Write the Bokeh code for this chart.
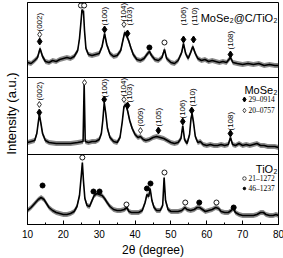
import math
from bokeh.plotting import figure
from bokeh.models import Range1d, Span, SingleIntervalTicker, FixedTicker
from bokeh.core.properties import value
from bokeh.embed import file_html
from bokeh.resources import INLINE

# ---------------- data ----------------
top_theta = [10, 11, 12, 12.8, 13.5, 14.2, 15, 16, 17, 18, 19, 20, 21, 22, 23, 24, 24.5, 24.9, 25.2, 25.4,
             25.6, 25.9, 26.3, 27, 28, 29, 30, 30.8, 31.5, 32.1, 33, 34, 35, 36, 36.6, 37.1, 37.6, 38.2,
             38.8, 39.5, 40.5, 41.5, 42.5, 43.5, 44, 44.6, 45.5, 46.5, 47.5, 48.2, 48.8, 50, 51, 52, 53,
             53.5, 54.1, 54.8, 55.5, 56.1, 56.8, 57.5, 58.5, 59.5, 60.5, 61.5, 62.5, 63.5, 64.5, 65.5,
             66.6, 67.3, 68.5, 70, 71.5, 73, 74.5, 76, 77.5, 79, 80]
top_int = [15, 14, 17, 20, 29, 21, 16, 15, 17, 16, 18, 19, 20, 19, 21, 27, 39, 55, 68, 65,
           67, 47, 29, 23, 22, 23, 24, 31, 44, 33, 24, 21, 22, 27, 37, 45, 42, 37,
           30, 23, 18, 17, 19, 24, 26, 22, 18, 17, 20, 28, 19, 15, 14, 17, 25,
           34, 24, 19, 25, 31, 24, 19, 17, 18, 16, 17, 16, 15, 16, 15,
           20, 15, 14, 13, 14, 13, 14, 12, 13, 12, 12]

mid_theta = [10, 11, 12, 12.6, 13.0, 13.3, 13.7, 14.2, 15, 16, 18, 20, 22, 24, 25.5, 25.8, 26.1, 27, 28,
             29, 30, 30.6, 31.0, 31.4, 31.8, 32.3, 33, 34, 35, 35.8, 36.4, 36.9, 37.4, 37.9, 38.5, 39.2,
             40, 40.8, 41.5, 42.3, 43, 44, 45, 46, 47, 48, 49, 50, 51, 52, 52.8, 53.3, 53.8, 54.5, 55.2,
             55.6, 55.9, 56.3, 56.8, 57.5, 58.2, 59, 60, 61, 62, 63, 64, 65, 66, 66.6, 67.2, 68, 69, 70,
             71, 72, 73, 74, 75, 76, 77, 78, 79, 80]
mid_int = [12, 13, 14, 21, 32, 40, 32, 21, 14, 12, 11, 11, 11, 12, 13, 71, 13, 12, 13,
           13, 15, 21, 34, 52, 42, 26, 17, 13, 12, 17, 32, 48, 50, 44, 34, 26,
           20, 17, 18, 15, 14, 15, 17, 18, 17, 16, 14, 12, 11, 12, 16, 29, 15, 11, 20,
           36, 41, 32, 18, 12, 13, 10, 9, 10, 9, 9, 10, 9, 10, 17, 10, 9, 11, 9,
           10, 9, 10, 11, 9, 9, 8, 8, 8, 7]

bot_theta = [10, 11, 12, 13, 13.8, 14.6, 15.3, 16, 17, 18, 19, 20, 21, 22, 23, 23.8, 24.5, 25.0, 25.3,
             25.6, 26.0, 26.6, 27.3, 28, 28.6, 29.3, 30, 30.8, 31.5, 32.2, 33, 34, 35, 36, 37, 37.7,
             38.3, 39, 40, 41, 42, 42.8, 43.3, 43.8, 44.2, 44.7, 45.3, 46, 47, 47.7, 48.1, 48.5, 49.2,
             50, 51, 52, 53, 53.9, 54.5, 55.5, 56.5, 57.3, 58, 58.8, 59.6, 60.5, 61.5, 62.5, 63.3, 64,
             65, 66, 66.8, 67.4, 68, 69, 70, 71, 72, 73, 74, 75, 75.8, 76.5, 77.5, 78.5, 79.3, 80]
bot_int = [14, 17, 21, 25, 27, 25, 21, 17, 14, 12, 11, 10, 10, 11, 13, 18, 29, 49, 62,
           44, 26, 19, 18, 24, 29, 31, 30, 29, 26, 22, 18, 15, 14, 14, 15, 17,
           13, 12, 12, 12, 14, 22, 30, 28, 36, 24, 17, 14, 14, 19, 47, 24, 15,
           13, 13, 13, 14, 17, 15, 14, 15, 17, 17, 15, 13, 14, 15, 17, 16, 13,
           12, 12, 14, 16, 12, 10, 9, 9, 9, 9, 10, 12, 12, 10, 9, 9, 10, 9]

# peak annotations: (2theta, intensity within panel)
top_hkl = ["(002)", "(100)", "(104)", "(103)", "(106)", "(110)", "(108)"]
top_hkl_theta = [13.4, 31.6, 36.9, 38.4, 53.5, 56.6, 66.6]
top_hkl_int = [46, 52, 56, 52, 52, 52, 28]
top_fdia_theta = [13.4, 31.5, 37.9, 53.5, 56.3, 66.6]
top_fdia_int = [36, 48, 44, 38, 38, 23]
top_odia_theta = [13.4, 36.9]
top_odia_int = [43, 53]
top_dot_theta = [44.0]
top_dot_int = [30]
top_ring_theta = [24.9, 25.8, 48.2]
top_ring_int = [72, 72, 35]

mid_hkl = ["(002)", "(100)", "(104)", "(103)", "(009)", "(105)", "(106)", "(110)", "(108)"]
mid_hkl_theta = [13.3, 31.6, 36.9, 38.4, 41.5, 46.5, 53.3, 55.9, 66.6]
mid_hkl_int = [54, 57, 58, 52, 28, 28, 36, 48, 24]
mid_fdia_theta = [13.3, 31.4, 37.9, 46.5, 53.3, 55.8, 66.6]
mid_fdia_int = [42, 55, 49, 24, 33, 44, 21]
mid_odia_theta = [13.3, 36.9, 41.5, 25.9]
mid_odia_int = [50, 55, 24, 72]

bot_dot_theta = [14.2, 28.4, 30.1, 43.3, 44.3, 57.9, 67.5]
bot_dot_int = [39, 33, 33, 36, 41, 22, 17]
bot_ring_theta = [25.3, 37.6, 48.2, 54.0, 62.7]
bot_ring_int = [67, 20, 52, 22, 22]

panel_names = ["MoSe₂@C/TiO₂", "MoSe₂", "TiO₂"]
mid_legend = ["29–0914", "20–0757"]
bot_legend = ["21–1272", "46–1237"]

# ---------------- layout ----------------
OFF_TOP, OFF_MID, OFF_BOT = 147, 70, 0
SANS = "Liberation Sans"
SERIF = "Liberation Serif"


def sh(vals, off):
    return [v + off for v in vals]


p = figure(frame_width=251, frame_height=222, x_range=Range1d(10, 80), y_range=Range1d(0, 222),
           output_backend="svg", toolbar_location=None,
           min_border_left=25, min_border_right=7, min_border_top=2, min_border_bottom=34)
p.grid.visible = False
p.outline_line_color = "black"
p.outline_line_width = 1
p.background_fill_color = "white"
p.border_fill_color = "white"

for th, it, off in [(top_theta, top_int, OFF_TOP), (mid_theta, mid_int, OFF_MID), (bot_theta, bot_int, OFF_BOT)]:
    ys = sh(it, off)
    p.varea(x=th, y1=[v - 2.5 for v in ys], y2=[v + 2.5 for v in ys], fill_color="#3a3a3a", fill_alpha=0.6)
    p.line(th, ys, line_color="black", line_width=1.6)

for yb in (OFF_MID, OFF_TOP):
    p.add_layout(Span(location=yb, dimension="width", line_color="black", line_width=1))

# x axis
p.xaxis.ticker = SingleIntervalTicker(interval=10, num_minor_ticks=2)
p.xaxis.major_tick_in = 4
p.xaxis.major_tick_out = 0
p.xaxis.minor_tick_in = 2
p.xaxis.minor_tick_out = 0
p.xaxis.axis_line_color = "black"
p.xaxis.major_label_text_font = SANS
p.xaxis.major_label_text_font_size = "10px"
p.xaxis.major_label_text_color = "black"
p.xaxis.major_label_standoff = 5
p.xaxis.axis_label = "2θ (degree)"
p.xaxis.axis_label_text_font = SANS
p.xaxis.axis_label_text_font_size = "12px"
p.xaxis.axis_label_text_font_style = "normal"
p.xaxis.axis_label_text_color = "black"
p.xaxis.axis_label_standoff = 2

# y axis
p.yaxis.ticker = FixedTicker(ticks=[])
p.yaxis.major_tick_line_color = None
p.yaxis.minor_tick_line_color = None
p.yaxis.major_label_text_font_size = "0px"
p.yaxis.major_label_standoff = 0
p.yaxis.axis_label = "Intensity (a.u.)"
p.yaxis.axis_label_text_font = SANS
p.yaxis.axis_label_text_font_size = "13px"
p.yaxis.axis_label_text_font_style = "normal"
p.yaxis.axis_label_text_color = "black"
p.yaxis.axis_label_standoff = 9

# rotated hkl labels
for labels, th, it, off in [(top_hkl, top_hkl_theta, top_hkl_int, OFF_TOP),
                            (mid_hkl, mid_hkl_theta, mid_hkl_int, OFF_MID)]:
    p.text(x=th, y=sh(it, off), text=labels, angle=math.pi / 2, text_align="left",
           text_baseline="middle", text_font=value(SANS), text_font_size="8px", text_color="black")

# markers
fdia_th = top_fdia_theta + mid_fdia_theta
fdia_y = sh(top_fdia_int, OFF_TOP) + sh(mid_fdia_int, OFF_MID)
p.scatter(fdia_th, fdia_y, marker="diamond", size=7, fill_color="black", line_color="black")
odia_th = top_odia_theta + mid_odia_theta
odia_y = sh(top_odia_int, OFF_TOP) + sh(mid_odia_int, OFF_MID)
p.scatter(odia_th, odia_y, marker="diamond", size=6, fill_color="white", line_color="black", line_width=0.8)
dot_th = top_dot_theta + bot_dot_theta
dot_y = sh(top_dot_int, OFF_TOP) + sh(bot_dot_int, OFF_BOT)
p.scatter(dot_th, dot_y, marker="circle", size=5, fill_color="black", line_color="black")
ring_th = top_ring_theta + bot_ring_theta
ring_y = sh(top_ring_int, OFF_TOP) + sh(bot_ring_int, OFF_BOT)
p.scatter(ring_th, ring_y, marker="circle", size=5, fill_color="white", line_color="black", line_width=0.9)

# panel names
p.text(x=[79.7, 79.7, 79.7], y=[OFF_TOP + 60, OFF_MID + 65, OFF_BOT + 56], text=panel_names,
       text_align="right", text_baseline="alphabetic", text_font=value(SANS),
       text_font_size="11px", text_color="black")

# legends
p.text(x=[71.6, 71.6], y=[OFF_MID + 55, OFF_MID + 44], text=mid_legend, text_align="left",
       text_baseline="middle", text_font=value(SERIF), text_font_size="7.5px", text_color="black")
p.scatter([70.5], [OFF_MID + 55], marker="diamond", size=5, fill_color="black", line_color="black")
p.scatter([70.5], [OFF_MID + 44], marker="diamond", size=4.5, fill_color="white", line_color="black", line_width=0.7)
p.text(x=[71.6, 71.6], y=[OFF_BOT + 46, OFF_BOT + 36], text=bot_legend, text_align="left",
       text_baseline="middle", text_font=value(SERIF), text_font_size="7.5px", text_color="black")
p.scatter([70.5], [OFF_BOT + 46], marker="circle", size=3.5, fill_color="white", line_color="black", line_width=0.7)
p.scatter([70.5], [OFF_BOT + 36], marker="circle", size=2.5, fill_color="black", line_color="black")

open("out.html", "w").write(file_html(p, INLINE))
